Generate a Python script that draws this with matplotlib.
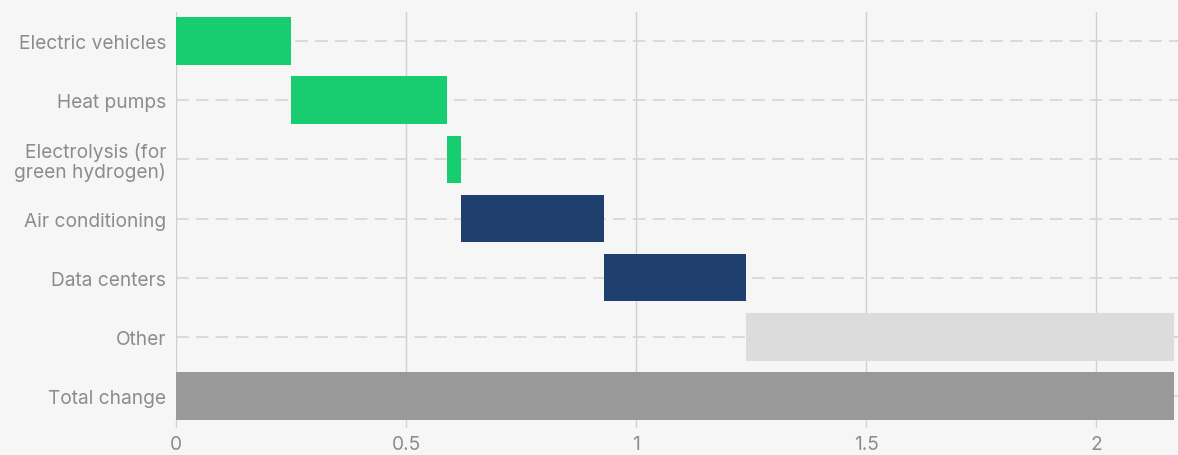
import matplotlib.pyplot as plt
import numpy as np

# categories and their contribution (waterfall)
categories = ["Electric vehicles", "Heat pumps", "Electrolysis (for\ngreen hydrogen)",
              "Air conditioning", "Data centers", "Other", "Total change"]
values = [0.25, 0.34, 0.03, 0.31, 0.31, 0.93]
colors = ["#17cd70", "#17cd70", "#17cd70", "#1f3f6e", "#1f3f6e", "#dcdcdc", "#999999"]
xticks = [0, 0.5, 1, 1.5, 2]
xtick_labels = ["0", "0.5", "1", "1.5", "2"]

starts = list(np.concatenate([[0], np.cumsum(values)[:-1]])) + [0]
widths = values + [sum(values)]

bg = "#f6f6f6"
plt.rcParams["font.family"] = ["Inter", "DejaVu Sans"]

fig = plt.figure(figsize=(11.78, 4.56), dpi=100, facecolor=bg)
ax = fig.add_axes([0.1494, 0.0768, 0.8506, 0.8947], facecolor=bg)

y = np.arange(len(categories))
for yi in y:
    ax.axhline(yi, color="#d8d8d8", lw=1.3, ls=(0, (7, 4)), zorder=0)
ax.barh(y, widths, left=starts, height=0.8, color=colors, zorder=2)

ax.set_xlim(0, 2.178)
ax.set_ylim(6.405, -0.49)
ax.set_yticks(y)
ax.set_yticklabels(categories, fontsize=13.8, color="#8c8c8c", linespacing=1.05)
ax.set_xticks(xticks)
ax.set_xticklabels(xtick_labels, fontsize=13.8, color="#8c8c8c")
ax.tick_params(axis="y", length=0, pad=7)
ax.tick_params(axis="x", length=5, color="#d0d0d0", width=1, pad=6)
ax.grid(axis="x", color="#d0d0d0", lw=1, zorder=1)
for s in ax.spines.values():
    s.set_visible(False)

fig.savefig("out.png", dpi=100, facecolor=bg)
